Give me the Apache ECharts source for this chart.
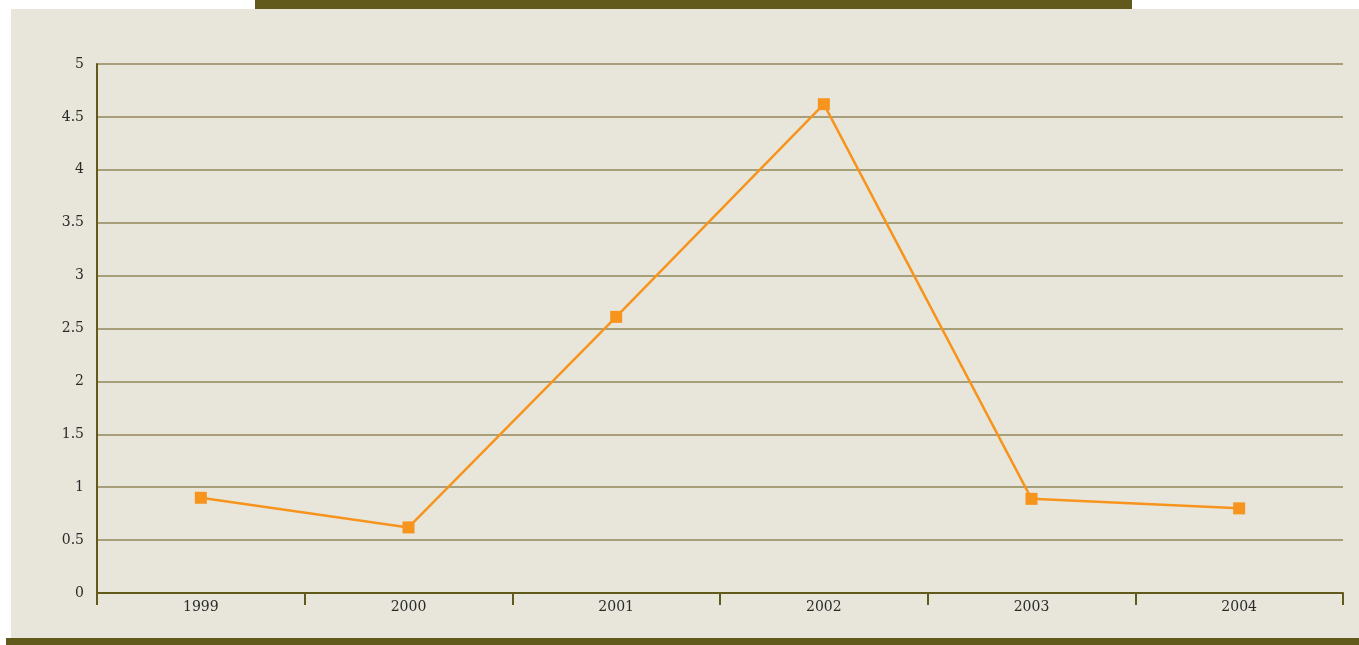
<!DOCTYPE html>
<html>
<head>
<meta charset="utf-8">
<script src="https://cdn.jsdelivr.net/npm/echarts@6/dist/echarts.min.js"></script>
<style>
	* {
		margin: 0;
		padding: 0;
	}
	body {
		background: #ffffff;
		width: 1359px;
		height: 645px;
		overflow: hidden;
		position: relative;
	}
	.panel {
		position: absolute;
		left: 11px;
		top: 9px;
		width: 1348px;
		height: 629px;
		background: #e8e6da;
	}
	.barTop {
		position: absolute;
		left: 255px;
		top: 0;
		width: 877px;
		height: 9px;
		background: #625a1c;
	}
	.barBottom {
		position: absolute;
		left: 6px;
		top: 638px;
		width: 1353px;
		height: 7px;
		background: #625a1c;
	}
	#mainLine {
		position: absolute;
		left: 0;
		top: 0;
		width: 1359px;
		height: 645px;
	}
</style>
</head>
<body>
<div class="panel"></div>
<div class="barTop"></div>
<div class="barBottom"></div>
<div id="mainLine"></div>
<script>
	var years = ['1999', '2000', '2001', '2002', '2003', '2004'];
	var values = [0.9, 0.62, 2.61, 4.62, 0.89, 0.8];

	var chart = echarts.init(document.getElementById('mainLine'));
	chart.setOption({
		animation: false,
		textStyle: {
			fontFamily: 'DejaVu Serif'
		},
		grid: {
			left: 97,
			right: 16,
			top: 64,
			bottom: 52
		},
		xAxis: {
			type: 'category',
			boundaryGap: true,
			data: years,
			axisLine: {
				lineStyle: { color: '#625a1c', width: 2 }
			},
			axisTick: {
				show: true,
				length: 12,
				lineStyle: { color: '#625a1c', width: 2 }
			},
			axisLabel: {
				color: '#2a2a2a',
				fontSize: 14,
				margin: 7
			}
		},
		yAxis: {
			type: 'value',
			min: 0,
			max: 5,
			interval: 0.5,
			axisLine: {
				show: true,
				lineStyle: { color: '#625a1c', width: 2 }
			},
			axisTick: { show: false },
			axisLabel: {
				color: '#2a2a2a',
				fontSize: 14,
				margin: 13
			},
			splitLine: {
				lineStyle: { color: '#a69f7a', width: 2 }
			}
		},
		series: [{
			type: 'line',
			data: values,
			symbol: 'rect',
			symbolSize: 12,
			lineStyle: { color: '#f7941d', width: 2.5 },
			itemStyle: { color: '#f7941d' }
		}]
	});
</script>
</body>
</html>
